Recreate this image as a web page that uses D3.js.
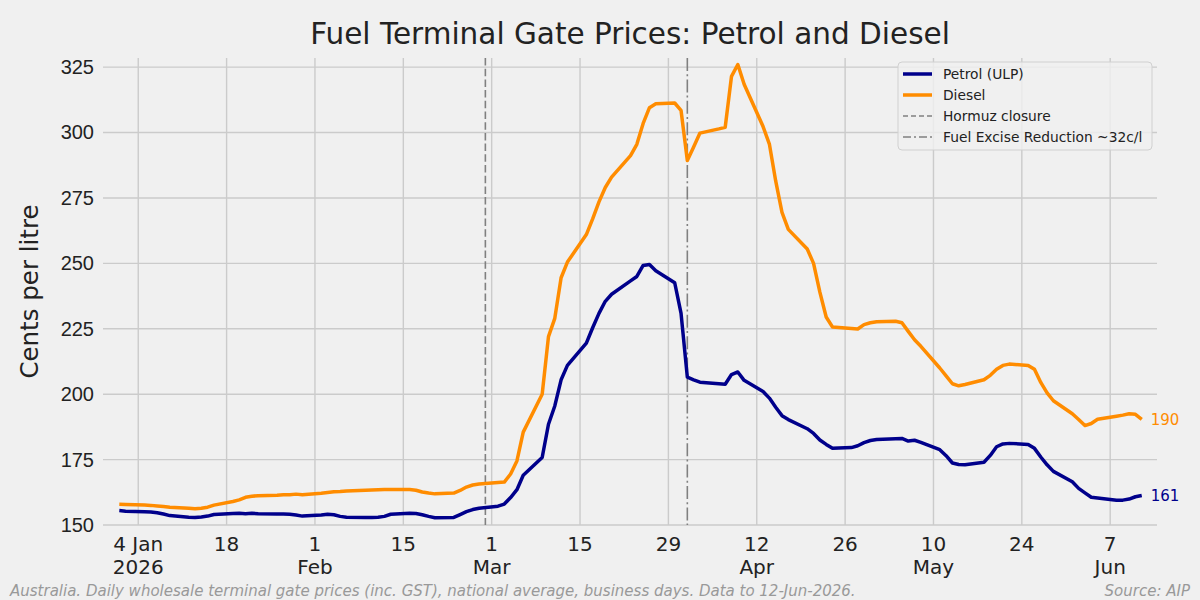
<!DOCTYPE html>
<html>
<head>
<meta charset="utf-8">
<script src="https://cdn.jsdelivr.net/npm/d3@7"></script>
<style>
  body { margin: 0; background: #f0f0f0; }
  svg { display: block; font-family: "DejaVu Sans", sans-serif; }
</style>
</head>
<body>
<svg id="chart" width="1200" height="600"></svg>
<script>
// Business days, 1 Jan 2026 to 12 Jun 2026 (Mon-Fri)
const startDate = new Date(2026, 0, 1);
const endDate = new Date(2026, 5, 12);

// Diesel, cents per litre (one row per week, Mon..Fri)
const diesel = [
  157.9, 157.8,                              // Jan 1-2
  157.6, 157.5, 157.3, 157.1, 156.8,         // Jan 5
  156.4, 156.2, 156.4, 156.8, 157.6,         // Jan 12
  159.0, 159.6, 160.6, 161.0, 161.2,         // Jan 19
  161.4, 161.6, 161.6, 161.8, 161.6,         // Jan 26
  162.1, 162.4, 162.7, 162.8, 163.0,         // Feb 2
  163.3, 163.4, 163.5, 163.6, 163.6,         // Feb 9
  163.6, 163.3, 162.6, 162.2, 161.9,         // Feb 16
  162.2, 163.2, 164.5, 165.3, 165.7,         // Feb 23
  166.2, 166.4, 169.5, 174.5, 185.5,         // Mar 2
  200.0, 222.0, 229.0, 244.5, 250.5,         // Mar 9
  261.0, 267.0, 273.5, 279.0, 283.0,         // Mar 16
  291.2, 295.5, 303.5, 309.5, 311.0,         // Mar 23
  311.3, 308.5, 289.3, 294.5, 299.8,         // Mar 30
  301.4, 302.0, 321.5, 326.0, 318.5,         // Apr 6
  302.3, 295.6, 281.5, 269.5, 263.0,         // Apr 13
  255.5, 250.0, 239.0, 229.5, 225.7,         // Apr 20
  225.1, 224.9, 226.6, 227.3, 227.7,         // Apr 27
  227.9, 227.3, 224.0, 220.8, 218.3,         // May 4
  210.0, 207.0, 204.0, 203.2, 203.7,         // May 11
  205.5, 207.2, 209.5, 211.0, 211.5,         // May 18
  211.0, 209.5, 204.5, 200.5, 197.5,         // May 25
  192.5, 190.3, 188.0, 188.8, 190.4,         // Jun 1
  191.6, 192.0, 192.5, 192.3, 190.4          // Jun 8
];

// Petrol (ULP), cents per litre
const petrol = [
  155.5, 155.3,                              // Jan 1-2
  155.1, 155.0, 154.7, 154.2, 153.6,         // Jan 5
  153.0, 152.9, 153.1, 153.4, 154.0,         // Jan 12
  154.4, 154.5, 154.3, 154.5, 154.3,         // Jan 19
  154.2, 154.2, 154.1, 153.8, 153.4,         // Jan 26
  153.8, 154.1, 153.9, 153.3, 153.0,         // Feb 2
  152.9, 152.9, 153.0, 153.3, 154.1,         // Feb 9
  154.5, 154.4, 153.9, 153.3, 152.8,         // Feb 16
  152.9, 154.0, 155.1, 155.9, 156.4,         // Feb 23
  157.2, 158.0, 160.5, 163.5, 169.0,         // Mar 2
  175.8, 188.5, 195.5, 205.5, 211.0,         // Mar 9
  219.5, 225.4, 230.9, 235.5, 238.2,         // Mar 16
  243.3, 245.0, 249.2, 249.6, 247.2,         // Mar 23
  242.6, 231.0, 206.5, 205.5, 204.6,         // Mar 30
  204.0, 203.8, 207.5, 208.5, 205.3,         // Apr 6
  201.0, 198.5, 195.0, 191.8, 190.3,         // Apr 13
  186.8, 185.0, 182.5, 180.8, 179.3,         // Apr 20
  179.6, 180.3, 181.5, 182.3, 182.7,         // Apr 27
  183.0, 183.1, 182.1, 182.4, 181.6,         // May 4
  178.8, 176.5, 173.7, 173.1, 173.0,         // May 11
  174.0, 176.6, 179.9, 181.0, 181.2,         // May 18
  180.8, 179.3, 176.0, 173.0, 170.5,         // May 25
  166.5, 164.0, 162.3, 160.6, 160.3,         // Jun 1
  159.5, 159.5, 159.9, 160.8, 161.3          // Jun 8
];

// Event markers
const hormuzDate = new Date(2026, 1, 28);
const exciseDate = new Date(2026, 3, 1);

// Axis ticks
const yTicks = [150, 175, 200, 225, 250, 275, 300, 325];
const xTickDates = [
  new Date(2026, 0, 4), new Date(2026, 0, 18), new Date(2026, 1, 1), new Date(2026, 1, 15),
  new Date(2026, 2, 1), new Date(2026, 2, 15), new Date(2026, 2, 29), new Date(2026, 3, 12),
  new Date(2026, 3, 26), new Date(2026, 4, 10), new Date(2026, 4, 24), new Date(2026, 5, 7)
];
const xTickLabels = [
  ["4 Jan", "2026"], ["18"], ["1", "Feb"], ["15"], ["1", "Mar"], ["15"],
  ["29"], ["12", "Apr"], ["26"], ["10", "May"], ["24"], ["7", "Jun"]
];

const colors = { petrol: "#00008b", diesel: "#ff8c00", marker: "#808080", grid: "#cbcbcb" };

const dates = d3.timeDay.range(startDate, d3.timeDay.offset(endDate, 1))
  .filter(d => d.getDay() !== 0 && d.getDay() !== 6);

const petrolData = dates.map((d, i) => ({ date: d, value: petrol[i] }));
const dieselData = dates.map((d, i) => ({ date: d, value: diesel[i] }));

const svg = d3.select("#chart");
const plot = { left: 103, right: 1157, top: 58, bottom: 525 };

svg.append("rect").attr("width", 1200).attr("height", 600).attr("fill", "#f0f0f0");

const x = d3.scaleTime()
  .domain([new Date(2025, 11, 29, 10), new Date(2026, 5, 14, 10)])
  .range([plot.left, plot.right]);

const y = d3.scaleLinear()
  .domain([150, 328.5])
  .range([plot.bottom, plot.top]);

// Grid
const grid = svg.append("g").attr("class", "grid");
grid.selectAll(".hgrid")
  .data(yTicks)
  .enter().append("line")
  .attr("x1", plot.left).attr("x2", plot.right)
  .attr("y1", d => y(d)).attr("y2", d => y(d))
  .attr("stroke", colors.grid).attr("stroke-width", 1.4);

grid.selectAll(".vgrid")
  .data(xTickDates)
  .enter().append("line")
  .attr("x1", d => x(d)).attr("x2", d => x(d))
  .attr("y1", plot.top).attr("y2", plot.bottom)
  .attr("stroke", colors.grid).attr("stroke-width", 1.4);

// Y axis labels
const yAxis = d3.axisLeft(y).tickValues(yTicks).tickSize(0).tickPadding(9);
svg.append("g")
  .attr("transform", `translate(${plot.left},0)`)
  .call(yAxis)
  .call(g => g.select(".domain").remove())
  .call(g => g.selectAll("text")
    .attr("font-size", "20px")
    .attr("fill", "#222"));

// X axis labels (two-line concise dates)
const xLab = svg.append("g").attr("class", "x-labels");
xTickDates.forEach((d, i) => {
  const t = xLab.append("text")
    .attr("x", x(d))
    .attr("y", 551)
    .attr("text-anchor", "middle")
    .attr("font-size", "20px")
    .attr("fill", "#222");
  xTickLabels[i].forEach((s, j) => {
    t.append("tspan").attr("x", x(d)).attr("y", 551 + j * 23).text(s);
  });
});

// Event lines
svg.append("line")
  .attr("x1", x(hormuzDate)).attr("x2", x(hormuzDate))
  .attr("y1", plot.top).attr("y2", plot.bottom)
  .attr("stroke", colors.marker).attr("stroke-width", 1.6)
  .attr("stroke-dasharray", "7.5,3.2");

svg.append("line")
  .attr("x1", x(exciseDate)).attr("x2", x(exciseDate))
  .attr("y1", plot.top).attr("y2", plot.bottom)
  .attr("stroke", colors.marker).attr("stroke-width", 1.6)
  .attr("stroke-dasharray", "13,3.2,2,3.2");

// Series lines
const line = d3.line()
  .x(d => x(d.date))
  .y(d => y(d.value));

svg.append("path")
  .datum(dieselData)
  .attr("fill", "none")
  .attr("stroke", colors.diesel)
  .attr("stroke-width", 3.5)
  .attr("stroke-linejoin", "round")
  .attr("d", line);

svg.append("path")
  .datum(petrolData)
  .attr("fill", "none")
  .attr("stroke", colors.petrol)
  .attr("stroke-width", 3.5)
  .attr("stroke-linejoin", "round")
  .attr("d", line);

// End-of-series value labels
const lastDiesel = dieselData[dieselData.length - 1];
const lastPetrol = petrolData[petrolData.length - 1];
svg.append("text")
  .attr("x", x(lastDiesel.date) + 9)
  .attr("y", y(lastDiesel.value))
  .attr("dy", "0.35em")
  .attr("font-size", "15px")
  .attr("fill", colors.diesel)
  .text(Math.round(lastDiesel.value));
svg.append("text")
  .attr("x", x(lastPetrol.date) + 9)
  .attr("y", y(lastPetrol.value))
  .attr("dy", "0.35em")
  .attr("font-size", "15px")
  .attr("fill", colors.petrol)
  .text(Math.round(lastPetrol.value));

// Title and axis label
svg.append("text")
  .attr("x", (plot.left + plot.right) / 2)
  .attr("y", 44)
  .attr("text-anchor", "middle")
  .attr("font-size", "29.5px")
  .attr("fill", "#222")
  .text("Fuel Terminal Gate Prices: Petrol and Diesel");

svg.append("text")
  .attr("transform", `translate(38,${(plot.top + plot.bottom) / 2})rotate(-90)`)
  .attr("text-anchor", "middle")
  .attr("font-size", "24.5px")
  .attr("fill", "#222")
  .text("Cents per litre");

// Legend
const legendItems = [
  { label: "Petrol (ULP)", color: colors.petrol, width: 3.5, dash: null },
  { label: "Diesel", color: colors.diesel, width: 3.5, dash: null },
  { label: "Hormuz closure", color: colors.marker, width: 1.6, dash: "5,3" },
  { label: "Fuel Excise Reduction ~32c/l", color: colors.marker, width: 1.6, dash: "8,3,2,3" }
];
const legend = svg.append("g").attr("transform", "translate(898,62)");
legend.append("rect")
  .attr("width", 254).attr("height", 88).attr("rx", 4)
  .attr("fill", "#f0f0f0").attr("fill-opacity", 0.8)
  .attr("stroke", "#d0d0d0");
const item = legend.selectAll(".legend-item")
  .data(legendItems)
  .enter().append("g")
  .attr("class", "legend-item")
  .attr("transform", (d, i) => `translate(0,${12 + i * 21})`);
item.append("line")
  .attr("x1", 5).attr("x2", 34)
  .attr("stroke", d => d.color)
  .attr("stroke-width", d => d.width)
  .attr("stroke-dasharray", d => d.dash);
item.append("text")
  .attr("x", 45).attr("dy", "0.35em")
  .attr("font-size", "13.8px")
  .attr("fill", "#222")
  .text(d => d.label);

// Footer
svg.append("text")
  .attr("x", 10).attr("y", 596)
  .attr("font-size", "15px")
  .attr("font-style", "italic")
  .attr("fill", "#999")
  .text("Australia. Daily wholesale terminal gate prices (inc. GST), national average, business days. Data to 12-Jun-2026.");
svg.append("text")
  .attr("x", 1190).attr("y", 596)
  .attr("text-anchor", "end")
  .attr("font-size", "15px")
  .attr("font-style", "italic")
  .attr("fill", "#999")
  .text("Source: AIP");
</script>
</body>
</html>
